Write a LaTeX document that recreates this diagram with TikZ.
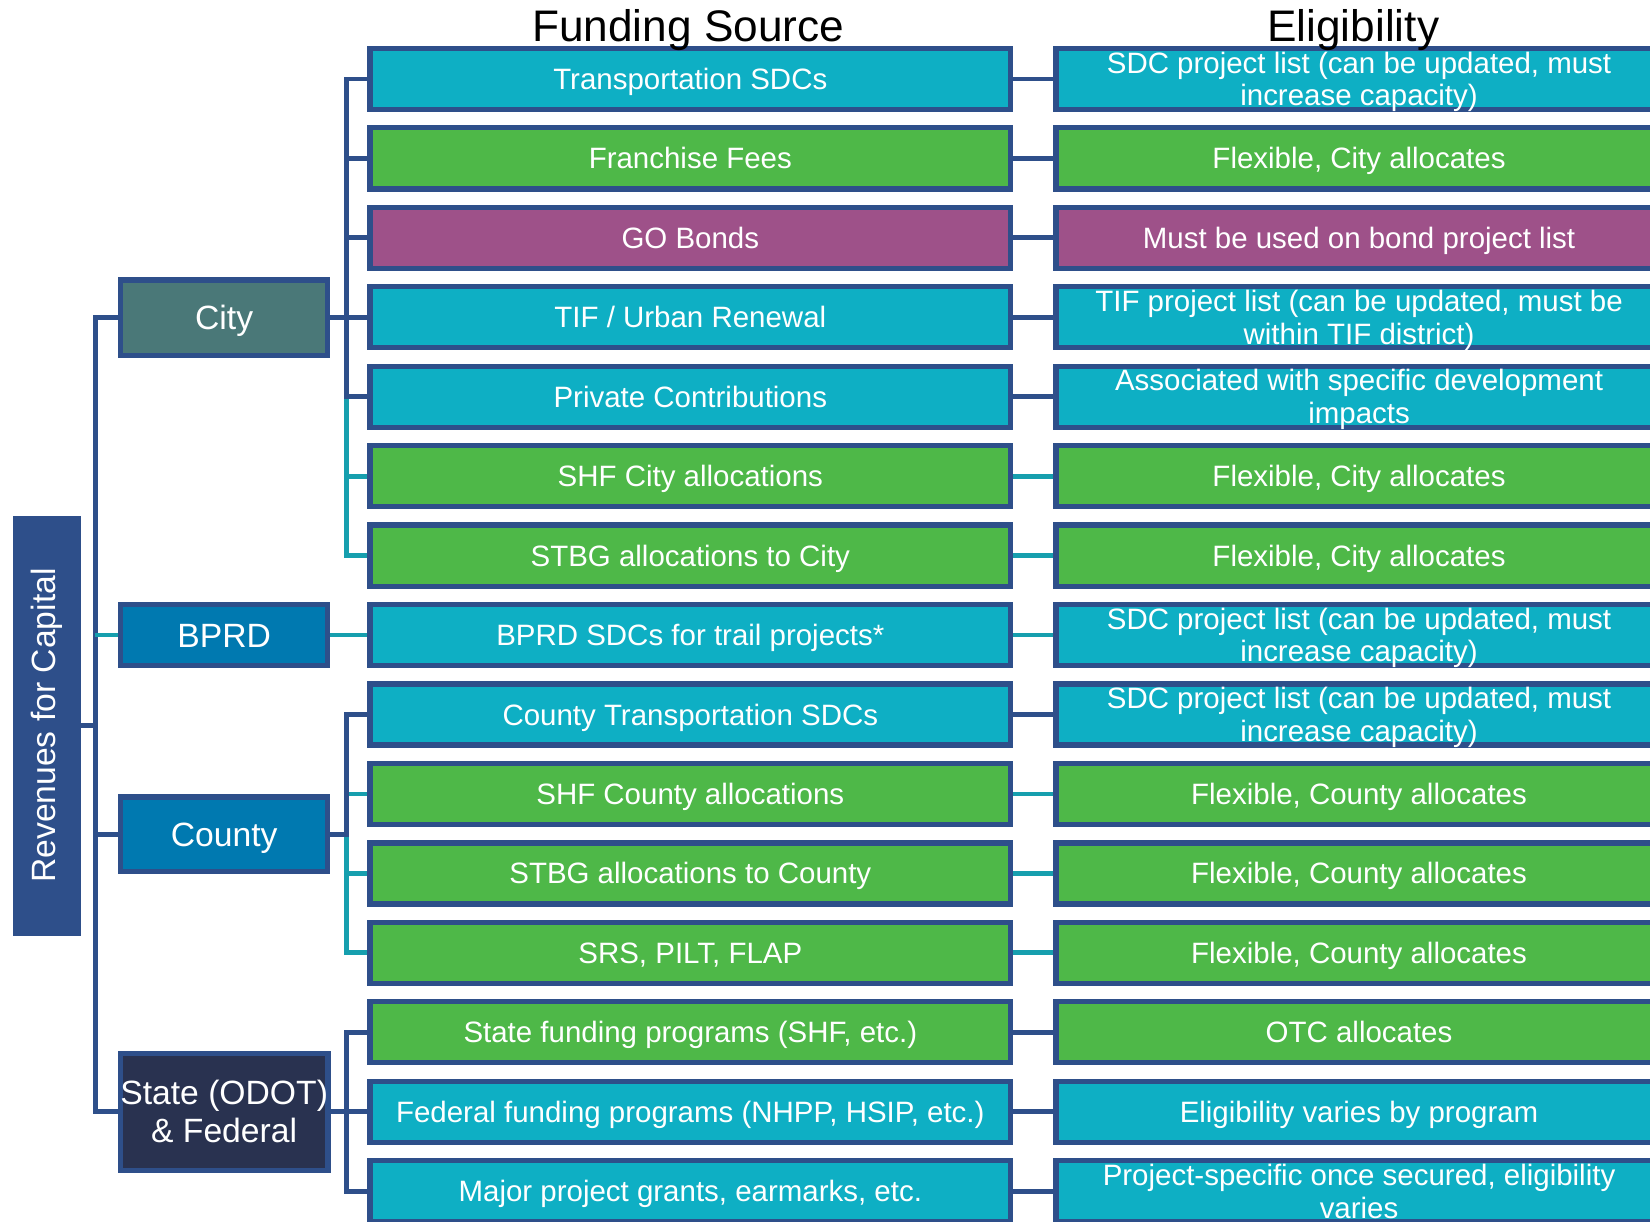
\documentclass[tikz,border=0pt]{standalone}
\usepackage{fontspec}
\setmainfont{Liberation Sans}
\usetikzlibrary{calc}
\definecolor{bord}{HTML}{2E4F8A}
\definecolor{tealf}{HTML}{0EAFC4}
\definecolor{greenf}{HTML}{4EB848}
\definecolor{purplef}{HTML}{9E5189}
\definecolor{cityf}{HTML}{4A7878}
\definecolor{bluef}{HTML}{0079B0}
\definecolor{statef}{HTML}{293250}
\definecolor{tline}{HTML}{169FAE}
\pgfdeclarelayer{bg}
\pgfsetlayers{bg,main}
\begin{document}
\begin{tikzpicture}[x=1pt,y=-1pt,
  box/.style={draw=bord, line width=5pt, text=white, inner sep=0pt, align=center,
    font=\fontsize{28}{31}\selectfont, text height=20pt, text depth=0pt},
  two/.style={text height=51pt, text depth=0pt},
  mid/.style={box, minimum width=609pt, minimum height=58pt},
  elig/.style={box, minimum width=576pt, minimum height=58pt},
  src/.style={box, minimum width=197pt, font=\fontsize{32}{36}\selectfont, text height=23pt},
  conn/.style={draw=bord, line width=4.5pt},
  tconn/.style={draw=tline, line width=4.5pt},
  title/.style={text=black, inner sep=0pt, anchor=base, font=\fontsize{42}{46}\selectfont}]
\useasboundingbox (0,0) rectangle (1568,1161);
\clip (0,0) rectangle (1568,1161);

% root
\node[fill=bord, rotate=90, minimum width=399pt, minimum height=65pt, inner sep=0pt,
  text=white, font=\fontsize{32}{36}\selectfont] (rev) at (44.5,689.5) {Revenues for Capital};

% sources
\node[src, fill=cityf, minimum height=72pt] (city) at (213,302) {City};
\node[src, fill=bluef, minimum height=58pt] (bprd) at (213,603.5) {BPRD};
\node[src, fill=bluef, minimum height=71pt] (county) at (213,793) {County};
\node[src, fill=statef, minimum height=111pt, text height=59pt, text depth=0pt] (state) at (213,1056.5) {State (ODOT)\\\& Federal};

% funding sources
\node[mid, fill=tealf]   (m1)  at (656,75)     {Transportation SDCs};
\node[mid, fill=greenf]  (m2)  at (656,150.5)  {Franchise Fees};
\node[mid, fill=purplef] (m3)  at (656,226)    {GO Bonds};
\node[mid, fill=tealf]   (m4)  at (656,301.5)  {TIF / Urban Renewal};
\node[mid, fill=tealf]   (m5)  at (656,377)    {Private Contributions};
\node[mid, fill=greenf]  (m6)  at (656,452.5)  {SHF City allocations};
\node[mid, fill=greenf]  (m7)  at (656,528)    {STBG allocations to City};
\node[mid, fill=tealf]   (m8)  at (656,603.5)  {BPRD SDCs for trail projects*};
\node[mid, fill=tealf]   (m9)  at (656,679)    {County Transportation SDCs};
\node[mid, fill=greenf]  (m10) at (656,754.5)  {SHF County allocations};
\node[mid, fill=greenf]  (m11) at (656,830)    {STBG allocations to County};
\node[mid, fill=greenf]  (m12) at (656,905.5)  {SRS, PILT, FLAP};
\node[mid, fill=greenf]  (m13) at (656,981)    {State funding programs (SHF, etc.)};
\node[mid, fill=tealf]   (m14) at (656,1056.5) {Federal funding programs (NHPP, HSIP, etc.)};
\node[mid, fill=tealf]   (m15) at (656,1132)   {Major project grants, earmarks, etc.};

% eligibility
\node[elig, two, fill=tealf]   (r1)  at (1291.5,75)     {SDC project list (can be updated, must\\increase capacity)};
\node[elig, fill=greenf]  (r2)  at (1291.5,150.5)  {Flexible, City allocates};
\node[elig, fill=purplef] (r3)  at (1291.5,226)    {Must be used on bond project list};
\node[elig, two, fill=tealf]   (r4)  at (1291.5,301.5)  {TIF project list (can be updated, must be\\within TIF district)};
\node[elig, two, fill=tealf]   (r5)  at (1291.5,377)    {Associated with specific development\\impacts};
\node[elig, fill=greenf]  (r6)  at (1291.5,452.5)  {Flexible, City allocates};
\node[elig, fill=greenf]  (r7)  at (1291.5,528)    {Flexible, City allocates};
\node[elig, two, fill=tealf]   (r8)  at (1291.5,603.5)  {SDC project list (can be updated, must\\increase capacity)};
\node[elig, two, fill=tealf]   (r9)  at (1291.5,679)    {SDC project list (can be updated, must\\increase capacity)};
\node[elig, fill=greenf]  (r10) at (1291.5,754.5)  {Flexible, County allocates};
\node[elig, fill=greenf]  (r11) at (1291.5,830)    {Flexible, County allocates};
\node[elig, fill=greenf]  (r12) at (1291.5,905.5)  {Flexible, County allocates};
\node[elig, fill=greenf]  (r13) at (1291.5,981)    {OTC allocates};
\node[elig, fill=tealf]   (r14) at (1291.5,1056.5) {Eligibility varies by program};
\node[elig, two, fill=tealf]   (r15) at (1291.5,1132)   {Project-specific once secured, eligibility\\varies};

% titles
\node[title] (tfs) at (654,39) {Funding Source};
\node[title] (tel) at (1286,39) {Eligibility};

\begin{pgfonlayer}{bg}
  % root tree
  \draw[conn] (rev.south) -- ++(16,0);
  \draw[conn] (city.west) -- ++(-21.5,0) |- (state.west);
  \draw[conn] (county.west) -- ++(-21.5,0);
  \draw[tconn] (bprd.west) -- ++(-21.5,0);
  % City branch
  \draw[tconn] (m5.west) ++(-20,0) |- (m7.west);
  \draw[tconn] (m6.west) -- ++(-20,0);
  \draw[conn] (city.east) -- ++(20,0);
  \draw[conn] (m5.west) -- ++(-20,0) |- (m1.west);
  \draw[conn] (m2.west) -- ++(-20,0);
  \draw[conn] (m3.west) -- ++(-20,0);
  \draw[conn] (m4.west) -- ++(-20,0);
  % BPRD branch
  \draw[tconn] (bprd.east) -- (m8.west);
  % County branch
  \draw[tconn] (m12.west) -- ++(-20,0) |- (county.east);
  \draw[tconn] (m10.west) -- ++(-20,0);
  \draw[tconn] (m11.west) -- ++(-20,0);
  \draw[conn] (m9.west) -- ++(-20,0) |- (county.east);
  % State branch
  \draw[conn] (m13.west) -- ++(-20,0) |- (m15.west);
  \draw[conn] (state.east) -- (m14.west);
  % to eligibility
  \foreach \i in {1,2,3,4,5,9,13,14,15} {\draw[conn] (m\i.east) -- (r\i.west);}
  \foreach \i in {6,7,8,10,11,12} {\draw[tconn] (m\i.east) -- (r\i.west);}
\end{pgfonlayer}
\end{tikzpicture}
\end{document}
